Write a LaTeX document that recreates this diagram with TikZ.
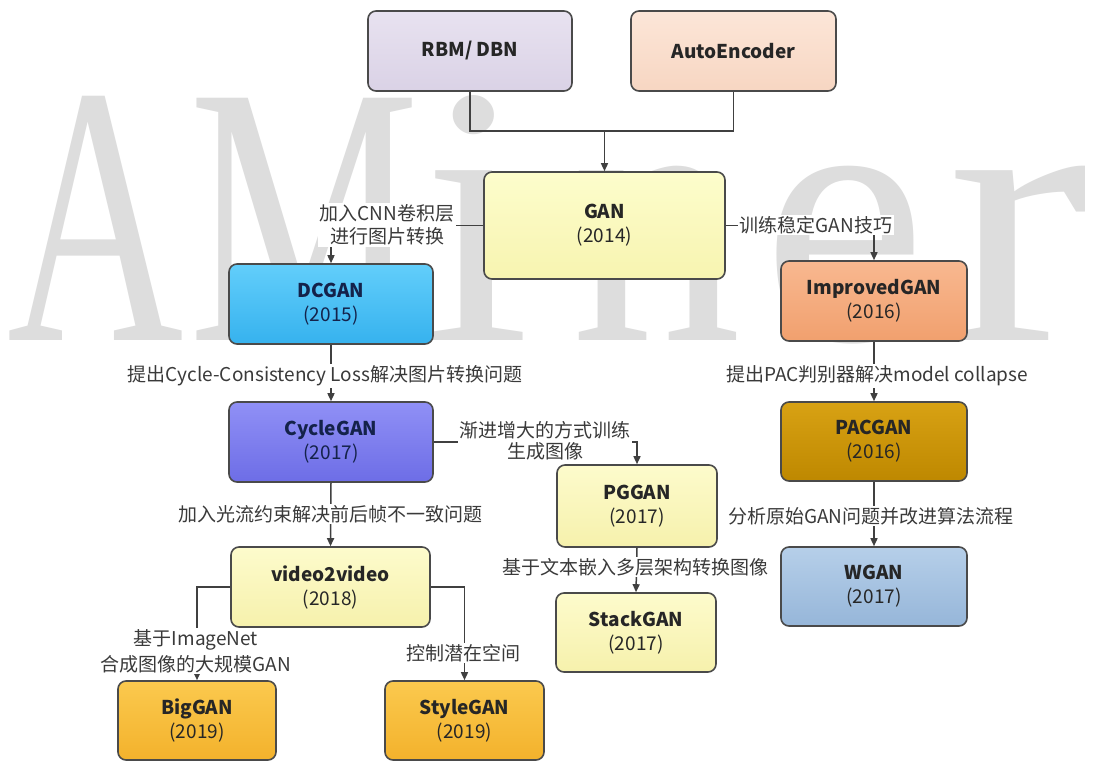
\documentclass[tikz,border=0pt]{standalone}
\usepackage{fontspec}
\setmainfont{Noto Sans CJK SC}
\newfontfamily\wmfont{Liberation Serif}
\usetikzlibrary{arrows.meta}
\definecolor{bordercol}{HTML}{4A4A4A}
\definecolor{linecol}{HTML}{404040}
\definecolor{lblcol}{HTML}{3A3A3A}
\definecolor{wmcol}{HTML}{DDDDDD}
\definecolor{navy}{HTML}{14224A}
\definecolor{rbmT}{HTML}{E8E2F0}\definecolor{rbmB}{HTML}{DAD2E6}
\definecolor{aeT}{HTML}{FCE6D8}\definecolor{aeB}{HTML}{F7D6C2}
\definecolor{ganT}{HTML}{FDFDCC}\definecolor{ganB}{HTML}{F7F4B0}
\definecolor{dcT}{HTML}{62CEFB}\definecolor{dcB}{HTML}{36B2EE}
\definecolor{cyT}{HTML}{9090F6}\definecolor{cyB}{HTML}{6D6DE6}
\definecolor{ylT}{HTML}{FDFBCC}\definecolor{ylB}{HTML}{F6F1AC}
\definecolor{orT}{HTML}{FBC94E}\definecolor{orB}{HTML}{F3B22C}
\definecolor{imT}{HTML}{F8B890}\definecolor{imB}{HTML}{F1A06E}
\definecolor{paT}{HTML}{D8A214}\definecolor{paB}{HTML}{BE8800}
\definecolor{wgT}{HTML}{B6CFE9}\definecolor{wgB}{HTML}{96B6D9}
\begin{document}
\begin{tikzpicture}[x=1pt,y=-1pt,
  box/.style={draw=bordercol, line width=1.6pt, rounded corners=8pt, align=center,
    text=black!85, font=\fontsize{19}{24}\selectfont, inner sep=0pt},
  conn/.style={draw=linecol, line width=1.5pt},
  arr/.style={conn, -{Triangle[length=8pt,width=7pt]}},
  lbl/.style={fill=white, inner sep=1.5pt, align=center, text=lblcol,
    font=\fontsize{19}{23}\selectfont},
  wm/.style={text=wmcol, inner sep=0pt, anchor=base, font=\wmfont\fontsize{370}{370}\selectfont}]
\useasboundingbox (0,0) rectangle (1095,762);
\fill[white] (0,0) rectangle (1095,762);

% watermark
\node[wm] (wA) at (96,340) {\scalebox{0.66}[1]{A}};
\node[wm] (wM) at (305,340) {\scalebox{0.70}[1]{M}};
\node[wm] (wi) at (476,340) {\scalebox{1.05}[1]{i}};
\node[wm] (wn) at (657,340) {\scalebox{0.92}[1]{n}};
\node[wm] (we) at (845,340) {\scalebox{1.0}[1]{e}};
\node[wm] (wr) at (1018,340) {\scalebox{1.15}[1]{r}};

% boxes
\node[box, top color=rbmT, bottom color=rbmB, minimum width=204pt, minimum height=80pt] (rbm) at (470,51) {\textbf{RBM/ DBN}};
\node[box, top color=aeT, bottom color=aeB, minimum width=205pt, minimum height=80pt] (ae) at (733.5,51) {\textbf{AutoEncoder}};
\node[box, top color=ganT, bottom color=ganB, minimum width=241pt, minimum height=107pt] (gan) at (604.5,225.5) {\textbf{GAN}\\(2014)};
\node[box, top color=dcT, bottom color=dcB, text=navy, minimum width=204pt, minimum height=80pt] (dcgan) at (331,304) {\textbf{DCGAN}\\(2015)};
\node[box, top color=cyT, bottom color=cyB, text=navy, minimum width=204pt, minimum height=80pt] (cyclegan) at (331,442) {\textbf{CycleGAN}\\(2017)};
\node[box, top color=ylT, bottom color=ylB, minimum width=199pt, minimum height=80pt] (v2v) at (330.5,587) {\textbf{video2video}\\(2018)};
\node[box, top color=orT, bottom color=orB, minimum width=158pt, minimum height=79pt] (biggan) at (197,720.5) {\textbf{BigGAN}\\(2019)};
\node[box, top color=orT, bottom color=orB, minimum width=159pt, minimum height=79pt] (stylegan) at (464.5,720.5) {\textbf{StyleGAN}\\(2019)};
\node[box, top color=ylT, bottom color=ylB, minimum width=160pt, minimum height=82pt] (pggan) at (637,506) {\textbf{PGGAN}\\(2017)};
\node[box, top color=ylT, bottom color=ylB, minimum width=160pt, minimum height=79pt] (stackgan) at (636,632.5) {\textbf{StackGAN}\\(2017)};
\node[box, top color=imT, bottom color=imB, minimum width=186pt, minimum height=80pt] (improved) at (874,301) {\textbf{ImprovedGAN}\\(2016)};
\node[box, top color=paT, bottom color=paB, minimum width=186pt, minimum height=79pt] (pacgan) at (874,441.5) {\textbf{PACGAN}\\(2016)};
\node[box, top color=wgT, bottom color=wgB, minimum width=186pt, minimum height=79pt] (wgan) at (874,586.5) {\textbf{WGAN}\\(2017)};

% connectors
\path (gan.north) ++(0,-40) coordinate (j1);
\draw[conn] (rbm.south) |- (j1) -| (ae.south);
\draw[arr] (j1) -- (gan.north);
\draw[arr] (gan.west) -| (dcgan.north);
\draw[arr] (gan.east) -| (improved.north);
\draw[arr] (dcgan.south) -- (cyclegan.north);
\draw[arr] (cyclegan.south) -- (v2v.north);
\draw[arr] (cyclegan.east) -| (pggan.north);
\draw[arr] (pggan.south) -- (stackgan.north);
\draw[arr] (v2v.west) -| (biggan.north);
\draw[arr] (v2v.east) -| (stylegan.north);
\draw[arr] (improved.south) -- (pacgan.north);
\draw[arr] (pacgan.south) -- (wgan.north);

% labels
\node[lbl] (l1) at (387,225) {加入CNN卷积层\\进行图片转换};
\node[lbl] (l2) at (816,225) {训练稳定GAN技巧};
\node[lbl] (l3) at (325,376) {提出Cycle-Consistency Loss解决图片转换问题};
\node[lbl] (l4) at (330,514) {加入光流约束解决前后帧不一致问题};
\node[lbl, font=\fontsize{19}{21}\selectfont] (l5) at (545,441) {渐进增大的方式训练\\生成图像};
\node[lbl] (l6) at (635,567) {基于文本嵌入多层架构转换图像};
\node[lbl, font=\fontsize{19}{26}\selectfont] (l7) at (196,651) {基于ImageNet\\合成图像的大规模GAN};
\node[lbl] (l8) at (463,653) {控制潜在空间};
\node[lbl] (l9) at (877,376) {提出PAC判别器解决model collapse};
\node[lbl] (l10) at (871,516) {分析原始GAN问题并改进算法流程};
\end{tikzpicture}
\end{document}
